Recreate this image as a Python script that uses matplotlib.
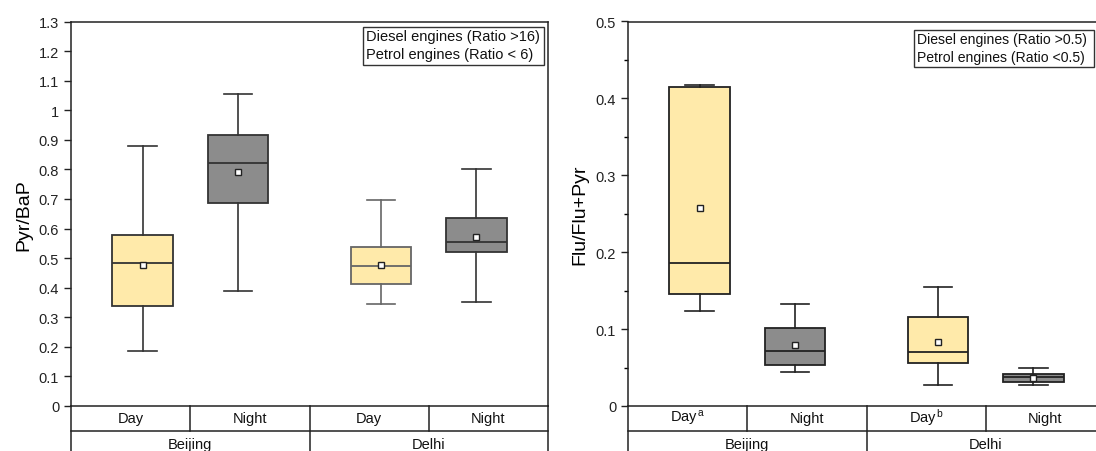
import matplotlib
matplotlib.use('Agg')
import matplotlib.pyplot as plt
from matplotlib.patches import Rectangle
from matplotlib.ticker import MultipleLocator, FuncFormatter

plt.rcParams['font.family'] = ['Liberation Sans', 'DejaVu Sans']
plt.rcParams['mathtext.fontset'] = 'custom'
plt.rcParams['mathtext.rm'] = 'Liberation Sans'
plt.rcParams['mathtext.it'] = 'Liberation Sans'

# groups: Beijing Day, Beijing Night, Delhi Day, Delhi Night
positions = [0.6, 1.4, 2.6, 3.4]
fills = ['#FFEAAA', '#8C8C8C', '#FFEAAA', '#8C8C8C']

# Pyr/BaP
pyr_lo = [0.186, 0.390, 0.346, 0.350]
pyr_q1 = [0.339, 0.685, 0.414, 0.522]
pyr_med = [0.484, 0.820, 0.473, 0.556]
pyr_mean = [0.476, 0.790, 0.477, 0.573]
pyr_q3 = [0.577, 0.915, 0.536, 0.636]
pyr_hi = [0.879, 1.054, 0.698, 0.801]

# Flu/Flu+Pyr
flu_lo = [0.124, 0.044, 0.027, 0.027]
flu_q1 = [0.146, 0.053, 0.056, 0.031]
flu_med = [0.186, 0.072, 0.070, 0.038]
flu_mean = [0.258, 0.079, 0.083, 0.037]
flu_q3 = [0.415, 0.101, 0.116, 0.042]
flu_hi = [0.418, 0.133, 0.155, 0.050]

row1_left = ['Day', 'Night', 'Day', 'Night']
row1_right = ['Day$^{\\,\\mathrm{a}}$', 'Night', 'Day$^{\\,\\mathrm{b}}$', 'Night']
row2 = ['Beijing', 'Delhi']

W, H = 1096, 452
fig = plt.figure(figsize=(W / 100, H / 100), dpi=100)

ax_w = 477 / W
ax_b = (H - 407) / H
ax_h = (407 - 22.5) / H
row_h = 25 / H


def legend_box(lines, x0, y0, x1, y1, ys, size):
    # box and text placed in pixel positions of the figure
    fig.add_artist(Rectangle((x0 / W, 1 - y1 / H), (x1 - x0) / W, (y1 - y0) / H,
                             transform=fig.transFigure, facecolor='white',
                             edgecolor='#333333', linewidth=1.0))
    for s, y in zip(lines, ys):
        fig.text((x0 + 3) / W, 1 - y / H, s, ha='left', va='center',
                 fontsize=size, color='#111111')


def make_panel(left, lo, q1, med, mean, q3, hi, ymax, ylabel, row1, edges,
               minor=None):
    ax = fig.add_axes([left, ax_b, ax_w, ax_h])
    stats = []
    for i in range(4):
        stats.append(dict(med=med[i], q1=q1[i], q3=q3[i], whislo=lo[i],
                          whishi=hi[i], mean=mean[i], fliers=[]))
    bp = ax.bxp(stats, positions=positions, widths=0.51, capwidths=0.24,
                patch_artist=True, showmeans=True, showfliers=False,
                meanprops=dict(marker='s', markersize=4, markerfacecolor='white',
                               markeredgecolor='#222222', markeredgewidth=1.0))
    for i in range(4):
        ec = edges[i]
        bp['boxes'][i].set_facecolor(fills[i])
        bp['boxes'][i].set_edgecolor(ec)
        bp['boxes'][i].set_linewidth(1.3)
        bp['medians'][i].set_color(ec)
        bp['medians'][i].set_linewidth(1.3)
        for ln in bp['whiskers'][2 * i:2 * i + 2] + bp['caps'][2 * i:2 * i + 2]:
            ln.set_color(ec)
            ln.set_linewidth(1.2)

    ax.set_xlim(0, 4)
    ax.set_ylim(0, ymax)
    ax.set_xticks([])
    ax.yaxis.set_major_locator(MultipleLocator(0.1))
    if minor:
        ax.yaxis.set_minor_locator(MultipleLocator(minor))
    ax.yaxis.set_major_formatter(FuncFormatter(lambda v, p: '{:g}'.format(round(v, 2))))
    ax.tick_params(axis='y', direction='out', length=5, width=1, labelsize=10.5,
                   pad=3.5, colors='#222222')
    ax.tick_params(axis='y', which='minor', direction='out', length=3, width=1)
    for s in ax.spines.values():
        s.set_linewidth(1.1)
        s.set_color('#222222')
    ax.set_ylabel(ylabel, fontsize=14, labelpad=5)

    # category table under the axis
    tb = fig.add_axes([left, ax_b - 2 * row_h, ax_w, 2 * row_h])
    tb.set_xlim(0, 4)
    tb.set_ylim(0, 2)
    tb.axis('off')
    lk = dict(color='#222222', linewidth=1.1, clip_on=False)
    tb.plot([0, 4], [1, 1], **lk)
    tb.plot([0, 0], [0, 2], **lk)
    tb.plot([4, 4], [0, 2], **lk)
    tb.plot([2, 2], [0, 2], **lk)
    tb.plot([1, 1], [1, 2], **lk)
    tb.plot([3, 3], [1, 2], **lk)
    for i, lab in enumerate(row1):
        tb.text(i + 0.5, 1.36, lab, ha='center', va='baseline', fontsize=10.5,
                color='#111111')
    for i, lab in enumerate(row2):
        tb.text(2 * i + 1, 0.33, lab, ha='center', va='baseline', fontsize=10.5,
                color='#111111')
    return ax


make_panel(71 / W, pyr_lo, pyr_q1, pyr_med, pyr_mean, pyr_q3, pyr_hi, 1.3,
           'Pyr/BaP', row1_left, ['#333333', '#333333', '#666666', '#333333'])
legend_box(['Diesel engines (Ratio >16)', 'Petrol engines (Ratio < 6)'],
           363, 28, 544, 66, [37, 55], 10.5)

make_panel(628 / W, flu_lo, flu_q1, flu_med, flu_mean, flu_q3, flu_hi, 0.5,
           'Flu/Flu+Pyr', row1_right, ['#222222'] * 4, minor=0.05)
legend_box(['Diesel engines (Ratio >0.5)', 'Petrol engines (Ratio <0.5)'],
           914, 31, 1094, 68, [40, 58], 10.1)

fig.savefig('out.png', dpi=100)
